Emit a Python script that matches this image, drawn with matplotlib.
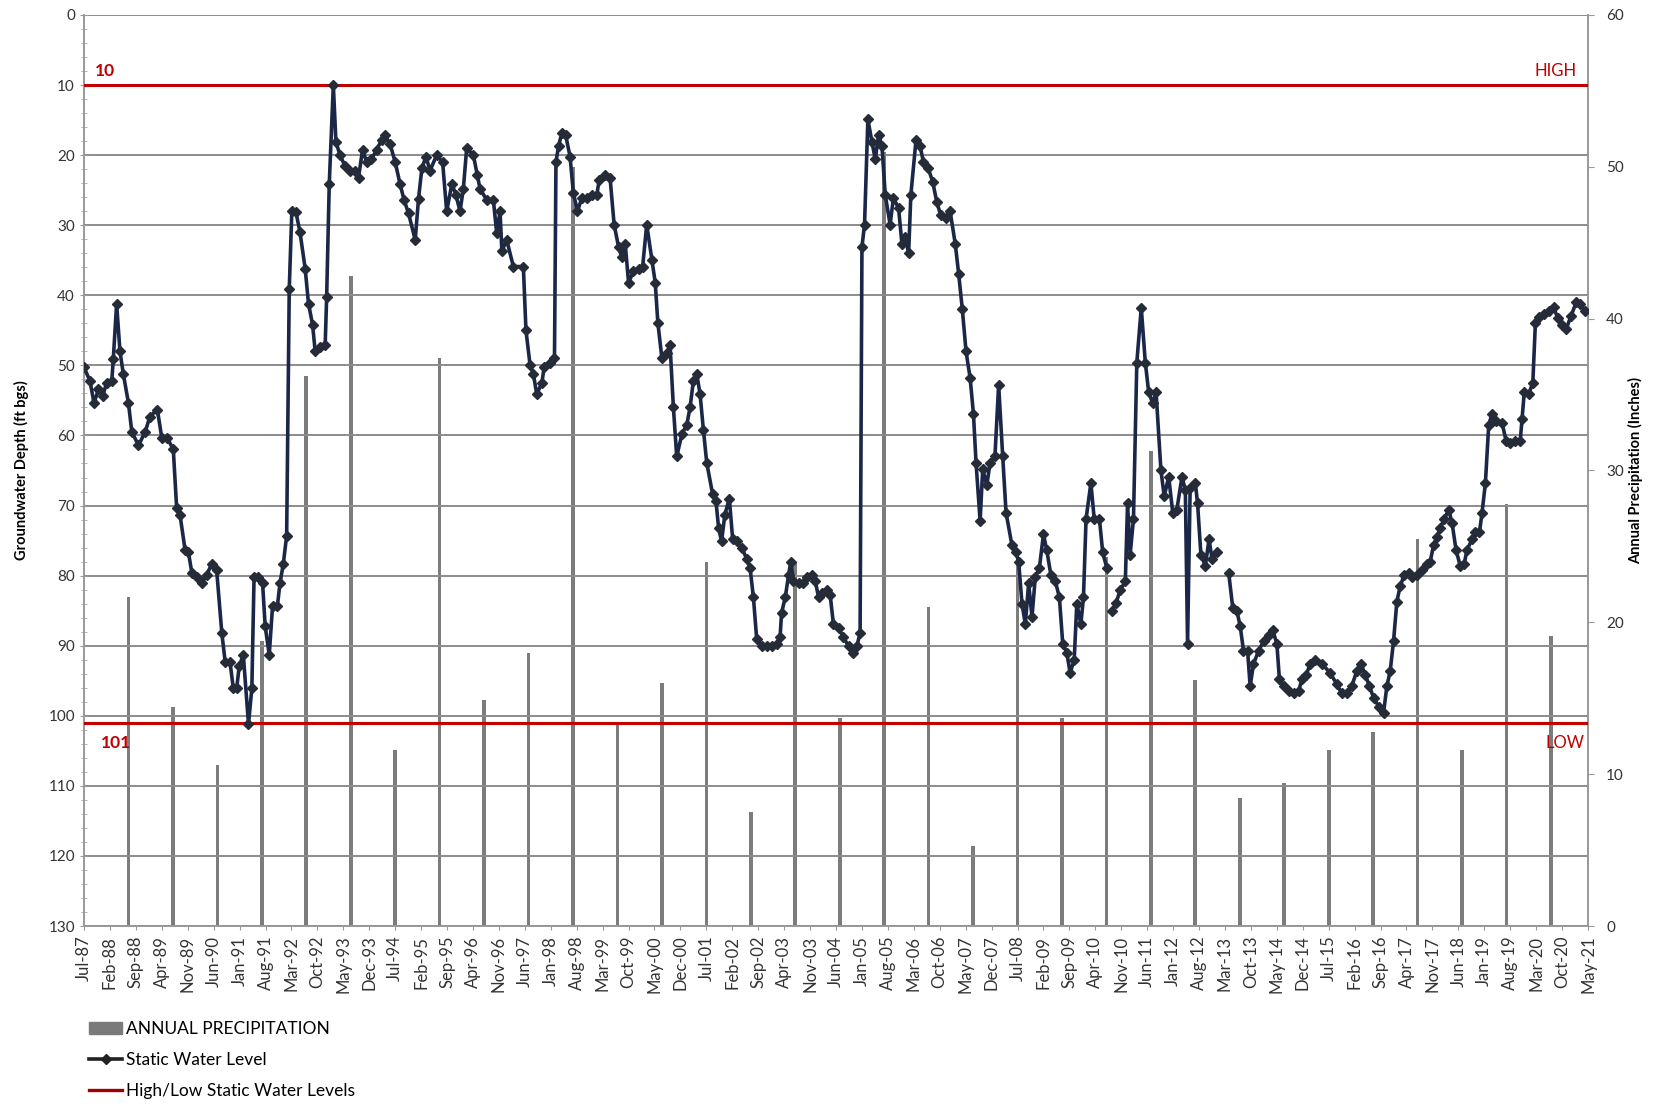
import numpy as np
import matplotlib.pyplot as plt
from matplotlib.lines import Line2D
from matplotlib.patches import Patch

plt.rcParams['font.family'] = ['Lato', 'DejaVu Sans']

# static water level, x = months after Jul-87, depth in ft bgs (nan = gap in record)
level_month = [
    0.0, 1.6, 2.7, 3.9, 5.0, 6.1, 7.5, 7.9, 8.8, 9.7, 10.6, 12.0, 12.9, 14.7, 16.5, 17.8,
    19.8, 21.0, 22.5, 24.1, 25.0, 25.9, 27.3, 28.2, 29.1, 30.4, 31.8, 33.1, 34.5, 35.8,
    37.2, 38.1, 39.4, 40.3, 41.2, 41.9, 43.0, 44.4, 45.3, 45.9, 47.1, 48.2, 48.9, 50.0,
    50.9, 52.2, 52.9, 53.8, 54.7, 55.4, 56.1, 57.2, 58.3, 59.7, 60.6, 61.7, 62.4, 63.7,
    65.1, 65.5, 66.2, 67.3, 68.0, 69.1, 70.5, 71.8, 73.1, 74.1, 75.2, 76.3, 77.6, 79.0,
    80.4, 81.2, 82.6, 84.0, 85.3, 86.4, 87.6, 89.4, 90.3, 91.2, 92.3, 93.4, 95.2, 96.8,
    97.9, 99.3, 100.4, 101.5, 102.4, 103.3, 105.1, 106.2, 106.9, 108.7, 110.5, 111.4,
    112.3, 112.8, 114.1, 115.9, 118.6, 119.3, 120.4, 121.3, 122.2, 123.6, 124.2, 125.8,
    127.0, 127.4, 128.1, 129.0, 130.0, 131.2, 132.1, 133.2, 134.4, 135.7, 137.1, 138.4,
    139.1, 140.7, 142.0, 143.1, 144.3, 145.2, 146.1, 147.0, 148.3, 149.7, 150.8, 151.9,
    153.3, 154.2, 154.9, 156.0, 157.3, 158.2, 159.1, 160.0, 161.4, 162.7, 163.6, 164.5,
    165.4, 166.3, 167.2, 168.1, 169.7, 170.6, 171.3, 172.1, 173.0, 174.2, 175.1, 176.2,
    177.6, 178.9, 179.8, 180.7, 181.6, 183.0, 184.3, 185.7, 187.0, 187.9, 188.3, 189.3,
    190.2, 190.8, 191.5, 192.9, 194.2, 195.1, 196.5, 197.4, 198.3, 199.2, 200.5, 201.4,
    202.3, 203.7, 205.0, 206.4, 207.5, 208.6, 209.5, 210.0, 210.7, 211.6, 212.7, 213.6,
    214.5, 215.4, 216.3, 217.6, 218.5, 219.9, 220.8, 221.7, 222.6, 223.2, 224.6, 225.7,
    226.6, 227.9, 229.1, 230.2, 231.3, 232.7, 233.8, 235.2, 236.1, 237.1, 238.1, 239.2,
    240.1, 240.8, 241.9, 242.6, 243.7, 244.6, 245.9, 246.9, 248.0, 248.9, 250.5, 251.6,
    252.3, 253.2, 254.1, 255.0, 255.9, 256.8, 257.9, 259.0, 259.9, 261.0, 262.2, 263.3,
    264.2, 265.3, 266.2, 267.3, 268.0, 269.1, 269.8, 270.5, 271.8, 272.7, 274.1, 275.0,
    276.1, 276.8, 277.5, 278.6, 279.7, 281.1, 281.7, 282.4, 283.3, 284.2, 285.4, 286.5,
    287.4, 288.5, 289.4, 290.7, 291.6, 292.8, 293.9, 295.0, 296.4, 297.3, 297.9, 298.6,
    300.0, 300.6, 301.5, 302.7, 303.7, 304.5, 305.8, 307.4, 309.0, 310.1, 311.2, 312.1,
    313.0, 314.1, 314.8, 315.7, 317.1, 318.4, 319.8, 320.9, 322.0, 322.7, 323.8, 325.2,
    326.5, 327.9, 328.8, 329.9, 331.0, 332.4, 334.2, 336.4, 338.2, 339.5, 340.9, 342.2,
    343.6, 344.7, 345.9, 347.0, 348.1, 349.5, 350.8, 351.7, 352.6, 353.5, 354.4, 355.3,
    356.4, 357.6, 358.5, 359.8, 361.2, 362.5, 363.4, 364.3, 365.2, 366.1, 367.2, 368.4,
    369.3, 370.4, 371.5, 372.6, 373.3, 374.7, 375.6, 376.7, 377.4, 378.3, 379.2, 380.1,
    381.2, 382.8, 383.9, 385.0, 386.4, 387.7, 388.2, 388.8, 390.0, 391.1, 391.8, 392.7,
    394.0, 395.4, 396.7, 397.8, 399.0, 400.1, 401.4, 402.8, 403.9, 405.3,
]
level_depth = [
    50.3, 52.2, 55.4, 53.4, 54.4, 52.5, 52.2, 49.1, 41.2, 48.0, 51.2, 55.4, 59.5, 61.4, 59.5, 57.3,
    56.3, 60.4, 60.4, 62.0, 70.3, 71.3, 76.4, 76.7, 79.6, 80.2, 81.1, 79.9, 78.3, 79.2,
    88.2, 92.3, 92.3, 96.1, 96.1, 92.9, 91.3, 101.2, 96.1, 80.2, 80.2, 81.1, 87.2, 91.3,
    84.3, 84.3, 81.1, 78.3, 74.3, 39.1, 28.0, 28.1, 31.0, 36.2, 41.2, 44.2, 48.0, 47.4,
    47.1, 40.2, 24.1, 10.0, 18.1, 20.0, 21.6, 22.2, 22.2, 23.2, 19.2, 21.0, 20.6, 19.2,
    17.8, 17.1, 18.4, 21.0, 24.1, 26.4, 28.3, 32.1, 26.2, 21.9, 20.2, 22.2, 20.0, 21.0,
    28.0, 24.1, 25.7, 28.0, 24.8, 19.0, 20.0, 22.9, 24.8, 26.4, 26.4, 31.1,
    28.0, 33.7, 32.1, 35.9, 35.9, 45.0, 49.9, 51.2, 54.1, 52.5, 50.3, 49.6,
    49.0, 21.0, 18.7, 16.8, 17.1, 20.2, 25.4, 28.0, 26.1, 26.1, 25.7, 25.7,
    23.5, 22.9, 23.2, 29.9, 33.1, 34.6, 32.7, 38.2, 36.6, 36.2, 35.9, 29.9,
    35.0, 38.2, 43.9, 49.0, 48.3, 47.1, 56.0, 63.0, 59.8, 58.5, 56.0, 52.2,
    51.2, 54.1, 59.2, 63.9, 68.4, 69.4, 73.2, 75.1, 71.3, 69.0, 74.8, 75.1,
    76.1, 77.6, 78.9, 83.1, 89.1, 90.1, 90.1, 90.1, 89.7, 88.8, 85.3, 83.1,
    79.9, 78.0, 80.8, 81.1, 81.1, 80.2, 79.9, 80.8, 83.1, 82.5, 82.1, 82.7,
    86.9, 87.5, 88.8, 90.1, 91.0, 90.1, 88.2, 33.1, 29.9, 14.9, 18.1, 20.6,
    17.1, 18.7, 25.7, 29.9, 26.1, 27.6, 32.7, 31.7, 34.0, 25.7, 17.8, 18.7,
    21.0, 21.9, 23.8, 26.7, 28.6, 28.9, 28.0, 32.7, 36.9, 42.0, 48.0, 51.8,
    56.9, 63.9, 72.2, 64.8, 67.1, 63.9, 63.0, 52.8, 63.0, 71.0, 75.7, 76.7,
    78.0, 84.0, 86.9, 81.1, 85.9, 80.2, 78.9, 74.1, 76.4, 79.9, 80.8, 83.1,
    89.7, 91.0, 93.9, 92.0, 84.0, 86.9, 83.1, 71.9, 66.8, 71.9, 71.9, 76.7,
    78.9, np.nan, 85.0, 83.9, 82.1, 80.8, 69.7, 77.0, 71.9, 49.6, 41.8, 49.6,
    53.8, 55.4, 53.8, 64.9, 68.7, 65.9, 71.0, 70.6, 65.9, 67.8, 89.7, 67.5,
    66.8, 69.7, 77.0, 78.6, 74.8, 77.6, 76.7, np.nan, 79.6, 84.6, 85.0, 87.2,
    90.7, 90.7, 95.8, 92.6, 90.7, 89.4, 88.5, 87.8, 89.7, 94.8, 95.8, 96.4,
    96.8, 96.4, 94.8, 94.2, 92.6, 92.0, 92.6, 93.9, 95.5, 96.8, 96.8, 95.8,
    93.6, 92.6, 94.2, 95.8, 97.4, 98.7, 99.6, 95.8, 93.6, 89.4, 83.7, 81.5,
    79.9, 79.6, 80.2, 79.9, 79.2, 78.3, 78.0, 75.7, 74.5, 73.2, 71.9, 70.6,
    72.5, 76.4, 78.6, 78.3, 76.4, 74.8, 73.8, 73.8, 71.0, 66.8, 58.5, 56.9,
    57.9, 58.2, 60.8, 61.1, 60.8, 60.8, 57.6, 53.8, 54.1, 52.5, 43.9, 43.1,
    42.7, 42.3, 41.7, 43.2, 44.2, 44.8, 43.0, 41.0, 41.3, 42.3,
]

# annual precipitation (inches), one bar per year
precip_year = list(range(1988, 2021))
precip_inches = [21.7, 14.4, 10.6, 18.8, 36.2, 42.8, 11.6, 37.4, 14.9, 18.0, 50.0,
                 13.4, 16.0, 24.0, 7.5, 24.0, 13.7, 51.0, 21.0, 5.3, 24.5, 13.7,
                 24.3, 31.3, 16.2, 8.4, 9.4, 11.6, 12.8, 25.5, 11.6, 27.8, 19.1]

high_level = 10
low_level = 101

month_names = ['Jan', 'Feb', 'Mar', 'Apr', 'May', 'Jun', 'Jul', 'Aug', 'Sep', 'Oct', 'Nov', 'Dec']
tick_pos = list(range(0, 407, 7))
tick_labels = []
for t in tick_pos:
    mm = 6 + t
    tick_labels.append(month_names[mm % 12] + '-' + '%02d' % ((1987 + mm // 12) % 100))

bar_x = [(y - 1987) * 12 for y in precip_year]

fig = plt.figure(figsize=(16.54, 11.09), dpi=100)
ax = fig.add_axes([0.0508, 0.165, 0.9093, 0.8215])
ax2 = ax.twinx()
ax.set_zorder(ax2.get_zorder() + 1)
ax.patch.set_visible(False)

red = '#c00000'
navy = '#1b2748'

ax2.bar(bar_x, precip_inches, width=1.0, color='#7c7c7c', zorder=2)
ax2.set_ylim(0, 60)
ax2.set_yticks(range(0, 61, 10))
ax2.tick_params(axis='y', labelsize=11, colors='#333333', length=4, color='#999999', pad=9)
ax2.set_ylabel('Annual Precipitation (Inches)', fontsize=10.5, fontweight='bold', labelpad=3)

ax.axhline(high_level, color=red, lw=2.2, zorder=3)
ax.axhline(low_level, color=red, lw=2.2, zorder=3)
ax.plot(level_month, level_depth, color=navy, lw=2.6, marker='D', markersize=5,
        markerfacecolor='#262b38', markeredgecolor='#262b38', zorder=4)

ax.set_ylim(130, 0)
ax.set_xlim(0, 406)
ax.set_yticks(range(0, 131, 10))
ax.set_yticks(range(0, 131, 2), minor=True)
ax.tick_params(axis='y', which='major', labelsize=11, colors='#333333', direction='inout',
               length=6, color='#999999')
ax.tick_params(axis='y', which='minor', direction='inout', length=4, color='#aaaaaa')
ax.set_xticks(tick_pos)
ax.set_xticklabels(tick_labels, rotation=90, fontsize=12, color='#333333')
ax.tick_params(axis='x', length=3, color='#999999', pad=4)
ax.grid(axis='y', which='major', color='#8c8c8c', lw=1.4)
ax.set_ylabel('Groundwater Depth (ft bgs)', fontsize=10.5, fontweight='bold', labelpad=14)

for a in (ax, ax2):
    a.spines['top'].set_visible(False)
    for s in ('left', 'right', 'bottom'):
        a.spines[s].set_color('#999999')
        a.spines[s].set_linewidth(1.2)

ax.text(3, high_level - 0.8, '10', color=red, fontsize=12.5, fontweight='bold', va='bottom')
ax.text(4.5, low_level + 1.8, '101', color=red, fontsize=12.5, fontweight='bold', va='top')
ax.text(403, high_level - 0.8, 'HIGH', color=red, fontsize=12, ha='right', va='bottom')
ax.text(405, low_level + 1.8, 'LOW', color=red, fontsize=12, ha='right', va='top')

handles = [Patch(facecolor='#7a7a7a', edgecolor='#7a7a7a'),
           Line2D([], [], color='#222222', lw=2.6, marker='D', markersize=5.5),
           Line2D([], [], color='#a00000', lw=2.4)]
labels = ['ANNUAL PRECIPITATION', 'Static Water Level', 'High/Low Static Water Levels']
fig.legend(handles, labels, loc='upper left', bbox_to_anchor=(0.054, 0.079), frameon=False,
           fontsize=12.5, handlelength=1.9, handletextpad=0.2, labelspacing=0.85,
           borderaxespad=0, borderpad=0)

fig.savefig('out.png', dpi=100)
